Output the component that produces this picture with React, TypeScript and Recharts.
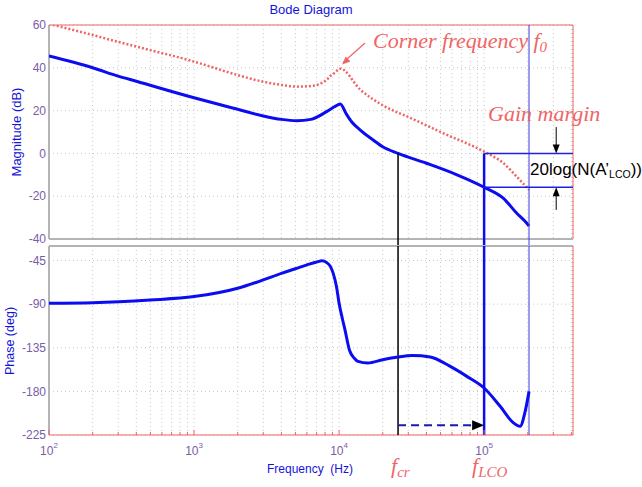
import React from 'react';
import { LineChart, Line, XAxis, YAxis, CartesianGrid, ReferenceLine, ReferenceDot } from 'recharts';

// frequency axis
const F_MIN = 100;
const F_MAX = 410000;
const F_CR = 25500;
const F_LCO = 100000;
const F_END = 204000;

const freqTicks = [
  100, 200, 300, 400, 500, 600, 700, 800, 900,
  1000, 2000, 3000, 4000, 5000, 6000, 7000, 8000, 9000,
  10000, 20000, 30000, 40000, 50000, 60000, 70000, 80000, 90000,
  100000, 200000, 300000, 400000,
];
const magTicks = [-40, -20, 0, 20, 40, 60];
const phaseTicks = [-225, -180, -135, -90, -45];

// loop gain magnitude (solid blue)
const magFreq = [100, 200, 300, 400, 1000, 2000, 3000, 4000, 5100, 6400, 8200, 9300, 10200, 11200, 12200, 14000, 17000, 20000, 25500, 40000, 65000, 100000, 136000, 168000, 190000, 204000];
const magBlue = [45.5, 40, 36.1, 33.7, 26, 20.6, 17.5, 15.9, 15.3, 15.9, 19.5, 21.8, 23.1, 18.5, 14.8, 10.9, 6.5, 3.1, 0, -4.6, -10, -15.8, -21, -28, -31.5, -33.9];

// plant magnitude (dotted red)
const redFreq = [100, 200, 300, 400, 1000, 2000, 3000, 4000, 5100, 6400, 8200, 8700, 9300, 10200, 14000, 20000, 31000, 52000, 100000, 136000, 168000, 204000];
const magRed = [60.5, 55.3, 52.1, 49.9, 42.9, 36.6, 33.5, 32, 31.2, 31.5, 34.3, 36.2, 37.6, 39.6, 29.8, 22.5, 16.6, 9.5, 0.8, -4.6, -10.9, -17.1];

// loop gain phase (solid blue)
const phaseFreq = [100, 200, 500, 1000, 2000, 3000, 4000, 5000, 6000, 7000, 7600, 8200, 8700, 9100, 9600, 10000, 10500, 11000, 11800, 12700, 13500, 15800, 20000, 25500, 32000, 42500, 58000, 76000, 100000, 129000, 158000, 177000, 191000, 204000];
const phaseBlue = [-89, -88.5, -85.7, -82.2, -73.6, -65, -58.2, -53.5, -49.5, -46.5, -45.3, -47, -51, -58, -72, -89, -104, -117, -137.6, -145.5, -149, -150.7, -147.3, -144.5, -143, -144.5, -154, -164.5, -176.5, -195.4, -212, -216, -202, -180];

const toRows = (fs: number[], vs: number[]) => fs.map((f, i) => ({ f, v: vs[i] }));
const magBlueData = toRows(magFreq, magBlue);
const magRedData = toRows(redFreq, magRed);
const phaseData = toRows(phaseFreq, phaseBlue);

const BLUE = '#0c0cf0';
const RED = '#f06464';
const GREY = '#b4b4b4';
const TICK_COLOR = '#7a5ca8';
const LABEL_BLUE = '#1414d8';
const SANS = '"Liberation Sans", Arial, sans-serif';
const SERIF = '"Liberation Serif", "Times New Roman", serif';

const isDecade = (v: number) => Math.abs(Math.log10(v) - Math.round(Math.log10(v))) < 1e-9;

const TopTick = (props: any) => {
  const { x, y, payload } = props;
  return <line x1={x} x2={x} y1={y} y2={y + (isDecade(payload.value) ? 5 : 3)} stroke={RED} />;
};

const BottomTick = (props: any) => {
  const { x, y, payload } = props;
  const v = payload.value;
  const major = isDecade(v);
  return (
    <g>
      <line x1={x} x2={x} y1={y} y2={y - (major ? 5 : 3)} stroke={RED} />
      {major && (
        <text x={x} y={y + 20} textAnchor="middle" fill={TICK_COLOR} fontSize={12} fontFamily={SANS}>
          10<tspan dy={-7} fontSize={8}>{Math.round(Math.log10(v))}</tspan>
        </text>
      )}
    </g>
  );
};

const RightTick = (props: any) => {
  const { x, y } = props;
  return <line x1={x} x2={x - 5} y1={y} y2={y} stroke={RED} />;
};

// arrowhead pointing along +x, rotated by angle (deg)
const arrowHead = (angle: number, len: number, half: number, color: string) => (p: any) => (
  <polygon
    points={`0,0 ${-len},${-half} ${-len},${half}`}
    fill={color}
    transform={`translate(${p.cx},${p.cy}) rotate(${angle})`}
  />
);

const gridProps = { stroke: '#c8c8c8', strokeDasharray: '1 3' };

export default function App() {
  return (
    <div style={{ position: 'absolute', left: 0, top: 0, width: 642, height: 487, background: '#fff', overflow: 'hidden' }}>
      {/* Magnitude */}
      <div style={{ position: 'absolute', left: 0, top: 0 }}>
        <LineChart width={642} height={250} margin={{ top: 25, right: 69, bottom: 11, left: 0 }}>
          <CartesianGrid {...gridProps} />
          <XAxis
            dataKey="f" type="number" scale="log" domain={[F_MIN, F_MAX]} allowDataOverflow
            orientation="top" height={0} ticks={freqTicks} interval={0}
            axisLine={false} tickLine={false} tickSize={0} tickMargin={0} tick={<TopTick />}
          />
          <YAxis
            type="number" domain={[-40, 60]} ticks={magTicks} allowDataOverflow width={49}
            axisLine={false} tickLine={false} tickSize={0} tickMargin={3}
            tick={{ fill: TICK_COLOR, fontSize: 12, fontFamily: SANS }}
          />
          <YAxis
            yAxisId="r" orientation="right" type="number" domain={[-40, 60]} ticks={magTicks} allowDataOverflow width={0}
            axisLine={false} tickLine={false} tickSize={0} tickMargin={0} tick={<RightTick />}
          />
          {/* frame */}
          <ReferenceLine y={60} stroke={RED} ifOverflow="visible" />
          <ReferenceLine x={F_MAX} stroke={RED} ifOverflow="visible" />
          <ReferenceLine x={F_MIN} stroke={GREY} strokeWidth={2} ifOverflow="visible" />
          <ReferenceLine y={-40} stroke={GREY} strokeWidth={2} ifOverflow="visible" />

          <Line data={magRedData} dataKey="v" type="monotone" stroke={RED} strokeWidth={2.5} strokeDasharray="2 2" dot={false} isAnimationActive={false} />
          <Line data={magBlueData} dataKey="v" type="monotone" stroke={BLUE} strokeWidth={3} dot={false} isAnimationActive={false} />

          {/* crossover and LCO markers */}
          <ReferenceLine segment={[{ x: F_CR, y: 0 }, { x: F_CR, y: -43.3 }]} stroke="#000" strokeWidth={1.5} ifOverflow="visible" />
          <ReferenceLine segment={[{ x: F_LCO, y: 0 }, { x: F_LCO, y: -43.3 }]} stroke={BLUE} strokeWidth={2.5} ifOverflow="visible" />
          <ReferenceLine segment={[{ x: F_END, y: 60 }, { x: F_END, y: -43.3 }]} stroke="#3a3ae6" strokeWidth={1} ifOverflow="visible" />
          <ReferenceLine segment={[{ x: F_LCO, y: 0 }, { x: F_MAX, y: 0 }]} stroke="#2020e0" strokeWidth={1.5} ifOverflow="visible" />
          <ReferenceLine segment={[{ x: F_LCO, y: -15.8 }, { x: F_MAX, y: -15.8 }]} stroke="#2020e0" strokeWidth={1.5} ifOverflow="visible" />

          {/* gain margin arrows */}
          <ReferenceLine segment={[{ x: 314000, y: 12.3 }, { x: 314000, y: 3 }]} stroke="#000" ifOverflow="visible" />
          <ReferenceDot x={314000} y={0} r={0} ifOverflow="visible" shape={arrowHead(90, 9, 3.5, '#000')} />
          <ReferenceLine segment={[{ x: 314000, y: -26.4 }, { x: 314000, y: -19 }]} stroke="#000" ifOverflow="visible" />
          <ReferenceDot x={314000} y={-15.8} r={0} ifOverflow="visible" shape={arrowHead(-90, 9, 3.5, '#000')} />

          {/* corner frequency arrow */}
          <ReferenceLine segment={[{ x: 15100, y: 51.6 }, { x: 10700, y: 42.6 }]} stroke={RED} strokeWidth={1.2} ifOverflow="visible" />
          <ReferenceDot x={10500} y={41.6} r={0} ifOverflow="visible" shape={arrowHead(137.6, 8, 3.5, RED)} />
        </LineChart>
      </div>

      {/* Phase */}
      <div style={{ position: 'absolute', left: 0, top: 240 }}>
        <LineChart width={642} height={247} margin={{ top: 6, right: 69, bottom: 0, left: 0 }}>
          <CartesianGrid {...gridProps} />
          <XAxis
            dataKey="f" type="number" scale="log" domain={[F_MIN, F_MAX]} allowDataOverflow
            height={52} ticks={freqTicks} interval={0}
            axisLine={false} tickLine={false} tickSize={0} tickMargin={0} tick={<BottomTick />}
          />
          <YAxis
            type="number" domain={[-225, -30]} ticks={phaseTicks} allowDataOverflow width={49}
            axisLine={false} tickLine={false} tickSize={0} tickMargin={3}
            tick={{ fill: TICK_COLOR, fontSize: 12, fontFamily: SANS }}
          />
          <YAxis
            yAxisId="r" orientation="right" type="number" domain={[-225, -30]} ticks={phaseTicks} allowDataOverflow width={0}
            axisLine={false} tickLine={false} tickSize={0} tickMargin={0} tick={<RightTick />}
          />
          {/* frame */}
          <ReferenceLine y={-30} stroke={GREY} strokeWidth={2} ifOverflow="visible" />
          <ReferenceLine x={F_MIN} stroke={GREY} strokeWidth={2} ifOverflow="visible" />
          <ReferenceLine y={-225} stroke={RED} ifOverflow="visible" />
          <ReferenceLine x={F_MAX} stroke={RED} ifOverflow="visible" />

          <ReferenceLine segment={[{ x: F_CR, y: -30 }, { x: F_CR, y: -225 }]} stroke="#000" strokeWidth={1.5} ifOverflow="visible" />
          <ReferenceLine segment={[{ x: F_LCO, y: -30 }, { x: F_LCO, y: -225 }]} stroke={BLUE} strokeWidth={2.5} ifOverflow="visible" />
          <ReferenceLine segment={[{ x: F_END, y: -30 }, { x: F_END, y: -225 }]} stroke="#3a3ae6" strokeWidth={1} ifOverflow="visible" />

          <Line data={phaseData} dataKey="v" type="monotone" stroke={BLUE} strokeWidth={3} dot={false} isAnimationActive={false} />

          {/* frequency shift arrow */}
          <ReferenceLine segment={[{ x: F_CR, y: -215 }, { x: 88000, y: -215 }]} stroke="#1a1ab0" strokeWidth={2} strokeDasharray="8 5" ifOverflow="visible" />
          <ReferenceDot x={F_LCO} y={-215} r={0} ifOverflow="visible" shape={arrowHead(0, 12, 5, '#000')} />
        </LineChart>
      </div>

      {/* titles and annotations */}
      <svg width={642} height={487} style={{ position: 'absolute', left: 0, top: 0, pointerEvents: 'none' }}>
        <text x={311} y={14} textAnchor="middle" fill={LABEL_BLUE} fontSize={13} fontFamily={SANS}>Bode Diagram</text>
        <text transform="translate(21,132) rotate(-90)" textAnchor="middle" fill={LABEL_BLUE} fontSize={13} fontFamily={SANS}>Magnitude (dB)</text>
        <text transform="translate(14,341) rotate(-90)" textAnchor="middle" fill={LABEL_BLUE} fontSize={12.5} fontFamily={SANS}>Phase (deg)</text>
        <text x={267} y={473} fill={LABEL_BLUE} fontSize={12} fontFamily={SANS} xmlSpace="preserve">Frequency  (Hz)</text>

        <text x={373} y={48} fill={RED} fontSize={22} fontStyle="italic" fontFamily={SERIF}>
          Corner frequency f<tspan dy={4} fontSize={15}>0</tspan>
        </text>
        <text x={488} y={121} fill={RED} fontSize={22} fontStyle="italic" fontFamily={SERIF}>Gain margin</text>
        <text x={530} y={175} fill="#000" fontSize={17} fontFamily={SANS}>
          20log(N(A’<tspan dy={3} fontSize={10.5}>LCO</tspan><tspan dy={-3}>))</tspan>
        </text>

        <text x={391} y={473} fill={RED} fontSize={22} fontStyle="italic" fontFamily={SERIF}>
          f<tspan dy={4} fontSize={15}>cr</tspan>
        </text>
        <text x={472} y={473} fill={RED} fontSize={22} fontStyle="italic" fontFamily={SERIF}>
          f<tspan dy={4} fontSize={15}>LCO</tspan>
        </text>
      </svg>
    </div>
  );
}
